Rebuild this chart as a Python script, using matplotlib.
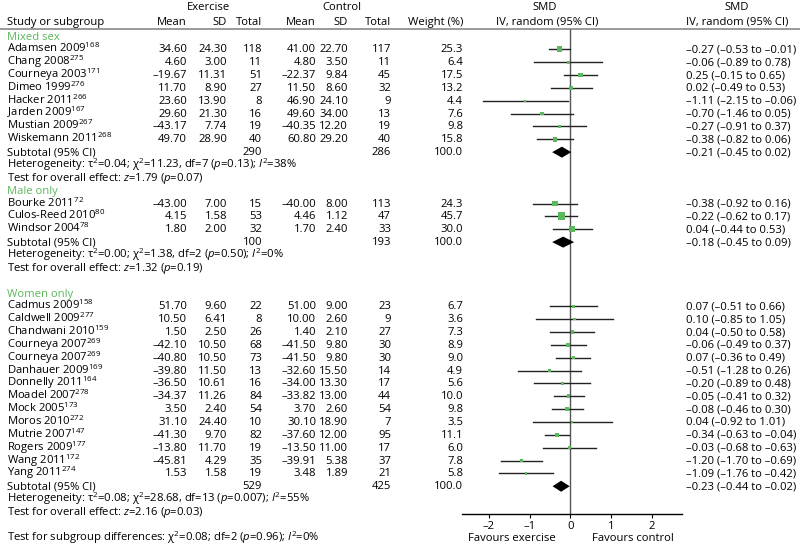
import matplotlib
matplotlib.use('Agg')
import matplotlib.pyplot as plt

plt.rcParams['font.family'] = ['Open Sans', 'DejaVu Sans']
plt.rcParams['mathtext.fontset'] = 'custom'
plt.rcParams['mathtext.rm'] = 'Open Sans'
plt.rcParams['mathtext.it'] = 'Open Sans:italic'

# data
groups = ['Mixed sex', 'Male only', 'Women only']
group_sizes = [8, 3, 14]
gap_after = [0, 1, 0]

names = ['Adamsen 2009', 'Chang 2008', 'Courneya 2003', 'Dimeo 1999', 'Hacker 2011',
         'Jarden 2009', 'Mustian 2009', 'Wiskemann 2011',
         'Bourke 2011', 'Culos-Reed 2010', 'Windsor 2004',
         'Cadmus 2009', 'Caldwell 2009', 'Chandwani 2010', 'Courneya 2007', 'Courneya 2007',
         'Danhauer 2009', 'Donnelly 2011', 'Moadel 2007', 'Mock 2005', 'Moros 2010',
         'Mutrie 2007', 'Rogers 2009', 'Wang 2011', 'Yang 2011']
refs = ['168', '275', '171', '276', '266', '167', '267', '268',
        '72', '80', '78',
        '158', '277', '159', '269', '269', '169', '164', '278', '173', '272',
        '147', '177', '172', '274']

ex_mean = [34.60, 4.60, -19.67, 11.70, 23.60, 29.60, -43.17, 49.70,
           -43.00, 4.15, 1.80,
           51.70, 10.50, 1.50, -42.10, -40.80, -39.80, -36.50, -34.37, 3.50, 31.10,
           -41.30, -13.80, -45.81, 1.53]
ex_sd = [24.30, 3.00, 11.31, 8.90, 13.90, 21.30, 7.74, 28.90,
         7.00, 1.58, 2.00,
         9.60, 6.41, 2.50, 10.50, 10.50, 11.50, 10.61, 11.26, 2.40, 24.40,
         9.70, 11.70, 4.29, 1.58]
ex_n = [118, 11, 51, 27, 8, 16, 19, 40,
        15, 53, 32,
        22, 8, 26, 68, 73, 13, 16, 84, 54, 10, 82, 19, 35, 19]
ct_mean = [41.00, 4.80, -22.37, 11.50, 46.90, 49.60, -40.35, 60.80,
           -40.00, 4.46, 1.70,
           51.00, 10.00, 1.40, -41.50, -41.50, -32.60, -34.00, -33.82, 3.70, 30.10,
           -37.60, -13.50, -39.91, 3.48]
ct_sd = [22.70, 3.50, 9.84, 8.60, 24.10, 34.00, 12.20, 29.20,
         8.00, 1.12, 2.40,
         9.00, 2.60, 2.10, 9.80, 9.80, 15.50, 13.30, 13.00, 2.60, 18.90,
         12.00, 11.00, 5.38, 1.89]
ct_n = [117, 11, 45, 32, 9, 13, 19, 40,
        113, 47, 33,
        23, 9, 27, 30, 30, 14, 17, 44, 54, 7, 95, 17, 37, 21]
weight = [25.3, 6.4, 17.5, 13.2, 4.4, 7.6, 9.8, 15.8,
          24.3, 45.7, 30.0,
          6.7, 3.6, 7.3, 8.9, 9.0, 4.9, 5.6, 10.0, 9.8, 3.5, 11.1, 6.0, 7.8, 5.8]
smd = [-0.27, -0.06, 0.25, 0.02, -1.11, -0.70, -0.27, -0.38,
       -0.38, -0.22, 0.04,
       0.07, 0.10, 0.04, -0.06, 0.07, -0.51, -0.20, -0.05, -0.08, 0.04,
       -0.34, -0.03, -1.20, -1.09]
ci_lo = [-0.53, -0.89, -0.15, -0.49, -2.15, -1.46, -0.91, -0.82,
         -0.92, -0.62, -0.44,
         -0.51, -0.85, -0.50, -0.49, -0.36, -1.28, -0.89, -0.41, -0.46, -0.92,
         -0.63, -0.68, -1.70, -1.76]
ci_hi = [-0.01, 0.78, 0.65, 0.53, -0.06, 0.05, 0.37, 0.06,
         0.16, 0.17, 0.53,
         0.66, 1.05, 0.58, 0.37, 0.49, 0.26, 0.48, 0.32, 0.30, 1.01,
         -0.04, 0.63, -0.69, -0.42]
# label printed in the source differs from the drawn interval
ci_text_fix = {22: '\u20130.03 (\u20130.68 to \u20130.63)'}

sub_ex_n = [290, 100, 529]
sub_ct_n = [286, 193, 425]
sub_smd = [-0.21, -0.18, -0.23]
sub_lo = [-0.45, -0.45, -0.44]
sub_hi = [0.02, 0.09, -0.02]
heterogeneity = [r'Heterogeneity: τ$^2$=0.04; χ$^2$=11.23, df=7 ($p$=0.13); $I^2$=38%',
                 r'Heterogeneity: τ$^2$=0.00; χ$^2$=1.38, df=2 ($p$=0.50); $I^2$=0%',
                 r'Heterogeneity: τ$^2$=0.08; χ$^2$=28.68, df=13 ($p$=0.007); $I^2$=55%']
overall = [r'Test for overall effect: $z$=1.79 ($p$=0.07)',
           r'Test for overall effect: $z$=1.32 ($p$=0.19)',
           r'Test for overall effect: $z$=2.16 ($p$=0.03)']
subgroup_test = r'Test for subgroup differences: χ$^2$=0.08; df=2 ($p$=0.96); $I^2$=0%'

x_ticks = [-2, -1, 0, 1, 2]

GREEN = '#5cb85c'
FS = 8.1


def fmt(v, d=2):
    return f'{v:.{d}f}'.replace('-', '\u2013')


def ci_str(e, lo, hi):
    return f'{fmt(e)} ({fmt(lo)} to {fmt(hi)})'


fig = plt.figure(figsize=(8, 5.45), dpi=100)
ax = fig.add_axes([0, 0, 1, 1])
ax.set_xlim(0, 800)
ax.set_ylim(545, 0)
ax.axis('off')

# forest panel in the same vertical pixel units
fx0, fx1 = 461.7, 681.7
axf = fig.add_axes([fx0 / 800, 0, (fx1 - fx0) / 800, 1])
axf.set_ylim(545, 0)
axf.set_xlim(-2.67, 2.73)
axf.patch.set_alpha(0)
for s in ['top', 'left', 'right']:
    axf.spines[s].set_visible(False)
axf.spines['bottom'].set_position(('data', 514))
axf.spines['bottom'].set_linewidth(1.0)
axf.set_yticks([])
axf.set_xticks(x_ticks)
axf.set_xticklabels([fmt(t, 0) for t in x_ticks], fontsize=FS)
axf.tick_params(axis='x', length=3, width=0.8, pad=2)

# column positions (px)
x_name = 7
x_exm, x_exsd, x_exn = 187, 227, 262
x_ctm, x_ctsd, x_ctn = 316, 348, 391
x_w = 463
x_ci = 686

y0, step = 35.5, 12.85


def txt(x, y, s, ha='right', **kw):
    ax.text(x, y + 4.0, s, ha=ha, va='baseline', fontsize=FS, **kw)


# header
txt(208, 6, 'Exercise', ha='center')
txt(342, 6, 'Control', ha='center')
txt(545, 6, 'SMD', ha='center')
txt(737, 6, 'SMD', ha='center')
txt(x_name, 21, 'Study or subgroup', ha='left')
for x, lab in [(x_exm, 'Mean'), (x_exsd, 'SD'), (x_exn, 'Total'),
               (x_ctm, 'Mean'), (x_ctsd, 'SD'), (x_ctn, 'Total'), (x_w, 'Weight (%)')]:
    txt(x, 21, lab)
txt(547, 21, 'IV, random (95% CI)', ha='center')
txt(737, 21, 'IV, random (95% CI)', ha='center')
ax.plot([0, 800], [28.5, 28.5], color='#9a9a9a', lw=1.4)

row = 0
k = 0
for g, gname in enumerate(groups):
    txt(x_name, y0 + row * step, gname, ha='left', color=GREEN)
    row += 1
    for _ in range(group_sizes[g]):
        y = y0 + row * step
        txt(x_name, y, f'{names[k]}$^{{{refs[k]}}}$', ha='left')
        txt(x_exm, y, fmt(ex_mean[k]))
        txt(x_exsd, y, fmt(ex_sd[k]))
        txt(x_exn, y, str(ex_n[k]))
        txt(x_ctm, y, fmt(ct_mean[k]))
        txt(x_ctsd, y, fmt(ct_sd[k]))
        txt(x_ctn, y, str(ct_n[k]))
        txt(x_w, y, fmt(weight[k], 1))
        txt(x_ci, y, ci_text_fix.get(k, ci_str(smd[k], ci_lo[k], ci_hi[k])), ha='left')
        axf.plot([ci_lo[k], ci_hi[k]], [y + 1, y + 1], color='#222222', lw=1.0, zorder=2)
        axf.scatter(smd[k], y + 1, s=weight[k] * 0.7, marker='s', color=GREEN,
                    edgecolors='none', zorder=3)
        row += 1
        k += 1
    y = y0 + row * step
    txt(x_name, y, 'Subtotal (95% CI)', ha='left')
    txt(x_exn, y, str(sub_ex_n[g]))
    txt(x_ctn, y, str(sub_ct_n[g]))
    txt(x_w, y, '100.0')
    txt(x_ci, y, ci_str(sub_smd[g], sub_lo[g], sub_hi[g]), ha='left')
    axf.fill([sub_lo[g], sub_smd[g], sub_hi[g], sub_smd[g]],
             [y + 1, y - 4.5, y + 1, y + 6.5], color='black', lw=0, zorder=4)
    row += 1
    txt(x_name, y0 + row * step, heterogeneity[g], ha='left')
    row += 1
    txt(x_name, y0 + row * step, overall[g], ha='left')
    row += 1 + gap_after[g]

txt(x_name, 537, subgroup_test, ha='left')
axf.vlines(0, 28.5, 514, color='#555555', lw=1.0, zorder=1)
txt(512, 537, 'Favours exercise', ha='center')
txt(633, 537, 'Favours control', ha='center')

fig.savefig('out.png', dpi=100)
